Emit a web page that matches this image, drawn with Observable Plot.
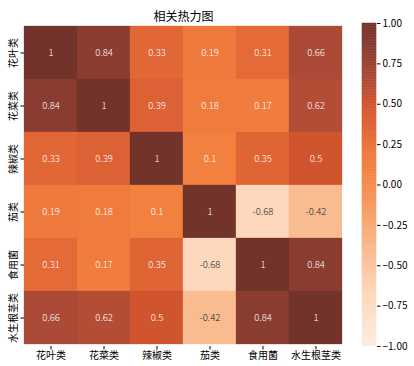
<!DOCTYPE html>
<html>
<head>
<meta charset="utf-8">
<script src="https://cdn.jsdelivr.net/npm/d3@7"></script>
<script src="https://cdn.jsdelivr.net/npm/@observablehq/plot@0.6"></script>
<style>
  body { margin: 0; background: #fff; }
  #wrap { position: relative; width: 414px; height: 366px; font-family: "Noto Sans CJK SC", sans-serif; }
  #wrap svg { position: absolute; left: 0; top: 0; }
</style>
</head>
<body>
<div id="wrap"></div>
<script>
const categories = ["花叶类", "花菜类", "辣椒类", "茄类", "食用菌", "水生根茎类"];
const row花叶类 = [1, 0.84, 0.33, 0.19, 0.31, 0.66];
const row花菜类 = [0.84, 1, 0.39, 0.18, 0.17, 0.62];
const row辣椒类 = [0.33, 0.39, 1, 0.1, 0.35, 0.5];
const row茄类 = [0.19, 0.18, 0.1, 1, -0.68, -0.42];
const row食用菌 = [0.31, 0.17, 0.35, -0.68, 1, 0.84];
const row水生根茎类 = [0.66, 0.62, 0.5, -0.42, 0.84, 1];
const colorbarTicks = [-1, -0.75, -0.5, -0.25, 0, 0.25, 0.5, 0.75, 1];
const title = "相关热力图";

const rows = [row花叶类, row花菜类, row辣椒类, row茄类, row食用菌, row水生根茎类];
const cells = [];
rows.forEach((r, i) => r.forEach((v, j) => cells.push({row: categories[i], col: categories[j], v})));

const colorOpts = {
  type: "linear",
  domain: [-1, -0.68, -0.42, 0, 0.1, 0.19, 0.33, 0.5, 0.66, 0.84, 1],
  range: ["#fdede0", "#fdd8bd", "#f9bc91", "#f48b4b", "#f2813f", "#ef7a3d", "#e26736", "#d0552f", "#ab4a37", "#8b3c31", "#72332b"]
};
const font = "Noto Sans CJK SC, sans-serif";
const W = 414, H = 366;

const heat = Plot.plot({
  width: W, height: H,
  marginLeft: 24, marginRight: 72, marginTop: 23, marginBottom: 20,
  style: {fontFamily: font, fontSize: "10px", color: "#000", background: "transparent"},
  x: {domain: categories, padding: 0, label: null},
  y: {domain: categories, padding: 0, label: null},
  color: colorOpts,
  marks: [
    Plot.cell(cells, {x: "col", y: "row", fill: "v", inset: 0, stroke: "v", strokeWidth: 0.3}),
    Plot.text(cells, {x: "col", y: "row", text: d => String(d.v), fontSize: 9.5, fontWeight: 300,
      fill: d => d.v < -0.3 ? "#262626" : "#ffffff"}),
    Plot.axisX({tickSize: 3.5, tickPadding: 2, fontSize: 10, label: null}),
    Plot.axisY({tickSize: 3.5, tickFormat: () => "", label: null}),
    Plot.text(categories, {y: d => d, text: d => d, frameAnchor: "left", dx: -11, rotate: -90,
      textAnchor: "middle", fontSize: 10, fill: "#000"}),
    Plot.text([title], {frameAnchor: "top", dy: -11, fontSize: 12, fill: "#000"})
  ]
});

const steps = d3.range(-1, 1, 0.01);
const bar = Plot.plot({
  width: W, height: H,
  marginLeft: 362, marginRight: 38, marginTop: 23, marginBottom: 20,
  style: {fontFamily: font, fontSize: "10px", color: "#000", background: "transparent"},
  x: {domain: [0, 1], axis: null},
  y: {domain: [-1, 1], label: null},
  color: colorOpts,
  marks: [
    Plot.rect(steps, {x1: 0, x2: 1, y1: d => d, y2: d => Math.min(1, d + 0.01), fill: d => d + 0.005, stroke: d => d + 0.005, strokeWidth: 0.5}),
    Plot.axisY({anchor: "right", ticks: colorbarTicks, tickFormat: d3.format(".2f"), tickSize: 3.5, tickPadding: 2.5, fontSize: 10, label: null})
  ]
});

document.getElementById("wrap").append(heat, bar);
</script>
</body>
</html>
